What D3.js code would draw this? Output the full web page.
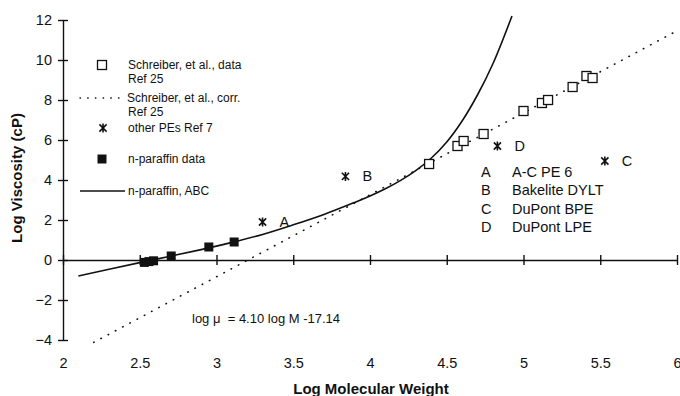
<!DOCTYPE html>
<html>
<head>
<meta charset="utf-8">
<script src="https://cdn.jsdelivr.net/npm/d3@7"></script>
<style>
  html, body { margin: 0; padding: 0; background: #fff; }
  svg { display: block; font-family: "Liberation Sans", Arial, sans-serif; }
</style>
</head>
<body>
<svg id="chart" width="680" height="396"></svg>
<script>
// Axis ticks
const xTicks = [2, 2.5, 3, 3.5, 4, 4.5, 5, 5.5, 6];
const yTicks = [-4, -2, 0, 2, 4, 6, 8, 10, 12];

// Schreiber, et al. data (Ref 25): [log M, log viscosity]
const schreiberData = [
  [4.385, 4.80], [4.57, 5.70], [4.61, 5.95], [4.74, 6.30], [5.00, 7.45],
  [5.12, 7.85], [5.16, 8.00], [5.32, 8.65], [5.41, 9.20], [5.45, 9.10]
];

// Schreiber, et al. correlation: log mu = slope * log M + intercept
const corrSlope = 4.10;
const corrIntercept = -13.14;
const corrRange = [2.2, 6.0];

// n-paraffin measured data
const paraffinData = [
  [2.53, -0.12], [2.56, -0.08], [2.59, -0.04], [2.705, 0.20], [2.95, 0.65], [3.115, 0.90]
];

// n-paraffin, ABC curve
const abcCurve = [
  [2.10, -0.80], [2.30, -0.46], [2.50, -0.13], [2.70, 0.19], [2.90, 0.52],
  [3.10, 0.88], [3.30, 1.28], [3.50, 1.76], [3.70, 2.28], [3.90, 2.88],
  [4.00, 3.20], [4.10, 3.56], [4.20, 3.98], [4.30, 4.48], [4.40, 5.10],
  [4.50, 5.90], [4.60, 6.95], [4.70, 8.25], [4.80, 9.80], [4.925, 12.20]
];

// Other PEs (Ref 7)
const otherPEs = [
  { key: "A", logM: 3.30, logMu: 1.90 },
  { key: "B", logM: 3.84, logMu: 4.18 },
  { key: "C", logM: 5.53, logMu: 4.95 },
  { key: "D", logM: 4.83, logMu: 5.70 }
];
const peNames = [
  ["A", "A-C PE 6"],
  ["B", "Bakelite DYLT"],
  ["C", "DuPont BPE"],
  ["D", "DuPont LPE"]
];

const svg = d3.select("#chart");
const ink = "#111";

const x = d3.scaleLinear().domain([2, 6]).range([63, 677]);
const y = d3.scaleLinear().domain([-4, 12]).range([340, 20]);

// Y axis with ticks crossing the axis line
const yAxis = svg.append("g")
  .attr("transform", `translate(${x(2)},0)`)
  .call(d3.axisLeft(y).tickValues(yTicks).tickSize(5).tickSizeOuter(0).tickFormat(d3.format("d")));
yAxis.select(".domain").attr("stroke", ink).attr("stroke-width", 1.4);
yAxis.selectAll(".tick line").attr("x1", -5).attr("x2", 5).attr("stroke", ink).attr("stroke-width", 1.4);
yAxis.selectAll(".tick text").attr("x", -11).attr("fill", ink)
  .style("font-size", "14.5px").style("font-family", "'Liberation Sans', Arial, sans-serif");

// X axis drawn along log viscosity = 0, labels at the bottom
const xAxis = svg.append("g")
  .attr("transform", `translate(0,${y(0)})`)
  .call(d3.axisBottom(x).tickValues(xTicks).tickSize(5).tickSizeOuter(0).tickFormat(d => String(d)));
xAxis.select(".domain").attr("stroke", ink).attr("stroke-width", 1.4);
xAxis.selectAll(".tick line").attr("y1", -5).attr("y2", 5).attr("stroke", ink).attr("stroke-width", 1.4);
xAxis.selectAll(".tick text").attr("y", 363 - y(0)).attr("dy", "0.35em").attr("fill", ink)
  .style("font-size", "14.5px").style("font-family", "'Liberation Sans', Arial, sans-serif");

// Axis titles
svg.append("text")
  .attr("x", 371).attr("y", 389).attr("dy", "0.35em")
  .attr("text-anchor", "middle").attr("font-weight", "bold").attr("font-size", 15).attr("fill", ink)
  .text("Log Molecular Weight");
svg.append("text")
  .attr("transform", "translate(17,178) rotate(-90)").attr("dy", "0.35em")
  .attr("text-anchor", "middle").attr("font-weight", "bold").attr("font-size", 15).attr("fill", ink)
  .text("Log Viscosity (cP)");

// Correlation line (dotted)
const corrLine = corrRange.map(m => [m, corrSlope * m + corrIntercept]);
const line = d3.line().x(d => x(d[0])).y(d => y(d[1]));
svg.append("path")
  .attr("d", line(corrLine))
  .attr("fill", "none").attr("stroke", ink).attr("stroke-width", 1.6)
  .attr("stroke-linecap", "round").attr("stroke-dasharray", "0.5,7.7");

// ABC curve (solid)
svg.append("path")
  .attr("d", d3.line().x(d => x(d[0])).y(d => y(d[1])).curve(d3.curveCatmullRom.alpha(0.5))(abcCurve))
  .attr("fill", "none").attr("stroke", ink).attr("stroke-width", 1.6);

// Marker helpers
function openSquare(g, cx, cy, s) {
  g.append("rect").attr("x", cx - s / 2).attr("y", cy - s / 2).attr("width", s).attr("height", s)
    .attr("fill", "#fff").attr("stroke", ink).attr("stroke-width", 1.3);
}
function filledSquare(g, cx, cy, s) {
  g.append("rect").attr("x", cx - s / 2).attr("y", cy - s / 2).attr("width", s).attr("height", s)
    .attr("fill", ink);
}
function star(g, cx, cy, r) {
  const h = r * 0.8;
  g.append("path")
    .attr("d", `M${cx},${cy - r}V${cy + r}M${cx - h},${cy - h}L${cx + h},${cy + h}M${cx - h},${cy + h}L${cx + h},${cy - h}`)
    .attr("stroke", ink).attr("stroke-width", 1.6).attr("fill", "none");
}

const marks = svg.append("g");
schreiberData.forEach(d => openSquare(marks, x(d[0]), y(d[1]), 9));
paraffinData.forEach(d => filledSquare(marks, x(d[0]), y(d[1]), 9));
otherPEs.forEach(d => {
  star(marks, x(d.logM), y(d.logMu), 4.5);
  marks.append("text")
    .attr("x", x(d.logM) + 17).attr("y", y(d.logMu)).attr("dy", "0.35em")
    .attr("font-size", 14.5).attr("fill", ink).text(d.key);
});

// Key for the lettered polymers
const keyG = svg.append("g");
peNames.forEach((row, i) => {
  const ty = 172 + i * 18.4;
  keyG.append("text").attr("x", 481).attr("y", ty).attr("dy", "0.35em")
    .attr("font-size", 14.5).attr("fill", ink).text(row[0]);
  keyG.append("text").attr("x", 512).attr("y", ty).attr("dy", "0.35em")
    .attr("font-size", 14.5).attr("fill", ink).text(row[1]);
});

// Legend
const leg = svg.append("g");
const legText = (tx, ty, s) => leg.append("text").attr("x", tx).attr("y", ty).attr("dy", "0.35em")
  .attr("font-size", 12).attr("fill", ink).text(s);
openSquare(leg, 102, 65, 9);
legText(128, 65, "Schreiber, et al., data");
legText(128, 79, "Ref 25");
leg.append("line").attr("x1", 80).attr("x2", 125).attr("y1", 98).attr("y2", 98)
  .attr("stroke", ink).attr("stroke-width", 1.4).attr("stroke-linecap", "round").attr("stroke-dasharray", "0.5,7.2");
legText(127, 98, "Schreiber, et al., corr.");
legText(128, 112, "Ref 25");
star(leg, 103, 128, 4.5);
legText(128, 128, "other PEs Ref 7");
filledSquare(leg, 102, 159, 9);
legText(128, 159, "n-paraffin data");
leg.append("line").attr("x1", 80).attr("x2", 125).attr("y1", 191).attr("y2", 191)
  .attr("stroke", ink).attr("stroke-width", 1.5);
legText(128, 191, "n-paraffin, ABC");

// Correlation equation
svg.append("text").attr("x", 192).attr("y", 318).attr("dy", "0.35em")
  .attr("font-size", 13).attr("fill", ink)
  .style("white-space", "pre")
  .text("log \u03bc  = 4.10 log M -17.14");
</script>
</body>
</html>
